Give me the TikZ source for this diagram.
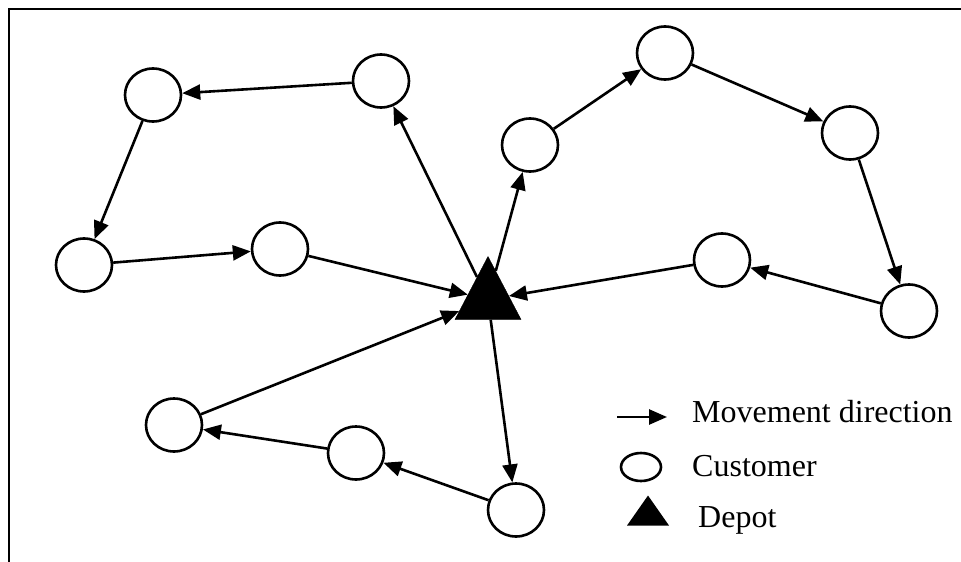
\documentclass[tikz,border=0pt]{standalone}
\usepackage{fontspec}
\setmainfont{Liberation Serif}
\usetikzlibrary{arrows.meta,shapes.geometric}
\begin{document}
\begin{tikzpicture}[x=1pt,y=-1pt,
  cust/.style={ellipse,draw,line width=2.6pt,inner sep=0pt,minimum width=56pt,minimum height=53pt},
  dep/.style={isosceles triangle,isosceles triangle stretches,shape border rotate=90,fill=black,draw=black,inner sep=0pt,minimum width=66pt,minimum height=63pt},
  mv/.style={line width=2.6pt,-{Triangle[length=18pt,width=15pt]}},
  lbl/.style={anchor=base west,inner sep=0pt,font=\fontsize{32pt}{36pt}\selectfont}]
\useasboundingbox (0,0) rectangle (961,562);
\draw[line width=2.8pt] (961,9) -- (9,9) -- (9,562);
\node[cust] (A) at (153,95) {};
\node[cust] (B) at (381,81) {};
\node[cust] (C) at (84,265) {};
\node[cust] (D) at (280,249) {};
\node[cust] (E) at (530,145) {};
\node[cust] (F) at (665,53) {};
\node[cust] (G) at (850,133) {};
\node[cust] (H) at (722,260) {};
\node[cust] (I) at (909,311) {};
\node[cust] (J) at (174,425) {};
\node[cust] (K) at (356,453) {};
\node[cust] (L) at (516,510) {};
\node[dep,anchor=apex] (P) at (488,256) {};
\draw[mv] (B) -- (A);
\draw[mv] (A) -- (C);
\draw[mv] (C) -- (D);
\draw[mv] (D) -- (P);
\draw[mv] (P) -- (B);
\draw[mv] (P) -- (E);
\draw[mv] (E) -- (F);
\draw[mv] (F) -- (G);
\draw[mv] (G) -- (I);
\draw[mv] (I) -- (H);
\draw[mv] (H) -- (P);
\draw[mv] (J) -- (P);
\draw[mv] (P) -- (L);
\draw[mv] (L) -- (K);
\draw[mv] (K) -- (J);
% legend
\coordinate (la) at (617,417);
\coordinate (lb) at (667,417);
\draw[mv] (la) -- (lb);
\node[ellipse,draw,line width=2.6pt,inner sep=0pt,minimum width=40pt,minimum height=28pt] (lc) at (641,467) {};
\node[isosceles triangle,isosceles triangle stretches,shape border rotate=90,fill=black,inner sep=0pt,minimum width=42pt,minimum height=30pt,anchor=apex] (ld) at (648,495) {};
\node[lbl] (t1) at (692,422) {Movement direction};
\node[lbl] (t2) at (692,476) {Customer};
\node[lbl] (t3) at (698,527) {Depot};
\end{tikzpicture}
\end{document}
